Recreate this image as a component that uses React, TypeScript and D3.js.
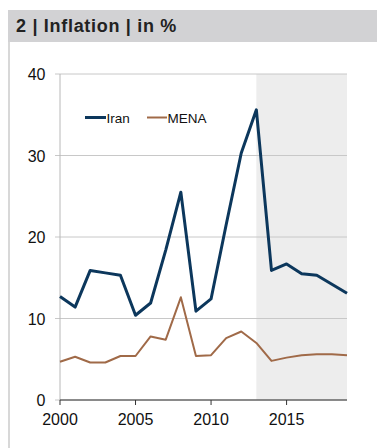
import React from "react";
import * as d3 from "d3";

const years = d3.range(2000, 2020);
const iran = [12.7, 11.4, 15.9, 15.6, 15.3, 10.4, 11.9, 18.4, 25.5, 10.9, 12.4, 21.5, 30.3, 35.6, 15.9, 16.7, 15.5, 15.3, 14.2, 13.1];
const mena = [4.7, 5.3, 4.6, 4.6, 5.4, 5.4, 7.8, 7.4, 12.6, 5.4, 5.5, 7.6, 8.4, 7.0, 4.8, 5.2, 5.5, 5.6, 5.6, 5.5];
const yTicks = [0, 10, 20, 30, 40];
const xTicks = [2000, 2005, 2010, 2015];
const forecastStart = 2013;
const title = "2 | Inflation | in %";

const W = 377;
const H = 448;
const FONT = "'Liberation Sans', Arial, sans-serif";

export default function App() {
  const x = d3.scaleLinear().domain([2000, 2019]).range([60, 347]);
  const y = d3.scaleLinear().domain([0, 40]).range([400, 74]);
  const line = d3
    .line<number>()
    .x((_, i) => x(years[i]))
    .y((d) => y(d));

  return (
    <svg
      width={W}
      height={H}
      style={{ position: "absolute", left: 0, top: 0, display: "block" }}
      fontFamily={FONT}
    >
      <rect x={0} y={0} width={W} height={H} fill="#fff" />
      {/* header band */}
      <rect x={8} y={10} width={W - 8} height={32} fill="#d2d2d4" />
      <text x={16} y={32} fontSize={18} fontWeight="bold" letterSpacing={0.7} fill="#222">
        {title}
      </text>
      {/* panel left border */}
      <rect x={8} y={42} width={2} height={H - 42} fill="#d8d8d8" />

      {/* forecast shading */}
      <rect
        x={x(forecastStart)}
        y={y(40)}
        width={x(2019) - x(forecastStart)}
        height={y(0) - y(40)}
        fill="#ededed"
      />

      {/* gridlines */}
      {yTicks.map((t) => (
        <line
          key={t}
          x1={x(2000) - 5}
          x2={x(2019)}
          y1={y(t)}
          y2={y(t)}
          stroke="#c8c8c8"
          strokeWidth={1}
        />
      ))}
      <line x1={x(2000)} x2={x(2000)} y1={y(40)} y2={y(0)} stroke="#b8b8b8" strokeWidth={1} />

      {/* y labels */}
      {yTicks.map((t) => (
        <text key={t} x={45.5} y={y(t) + 6} fontSize={16} textAnchor="end" fill="#111">
          {t}
        </text>
      ))}

      {/* x axis */}
      <line x1={x(2000)} x2={x(2019)} y1={y(0)} y2={y(0)} stroke="#333" strokeWidth={1.2} />
      {xTicks.map((t) => (
        <g key={t}>
          <line x1={x(t)} x2={x(t)} y1={y(0)} y2={y(0) + 5} stroke="#333" strokeWidth={1} />
          <text x={x(t)} y={y(0) + 24.5} fontSize={16} textAnchor="middle" fill="#111">
            {t}
          </text>
        </g>
      ))}

      {/* series */}
      <path d={line(mena) ?? ""} fill="none" stroke="#a06a48" strokeWidth={2} strokeLinejoin="round" />
      <path d={line(iran) ?? ""} fill="none" stroke="#0c375c" strokeWidth={3} strokeLinejoin="round" />

      {/* legend */}
      <line x1={85} x2={106} y1={117.5} y2={117.5} stroke="#0c375c" strokeWidth={3} />
      <text x={106.5} y={122.5} fontSize={13.5} fill="#111">Iran</text>
      <line x1={147} x2={167} y1={117.5} y2={117.5} stroke="#a06a48" strokeWidth={2} />
      <text x={167.5} y={122.5} fontSize={13.5} fill="#111">MENA</text>
    </svg>
  );
}
